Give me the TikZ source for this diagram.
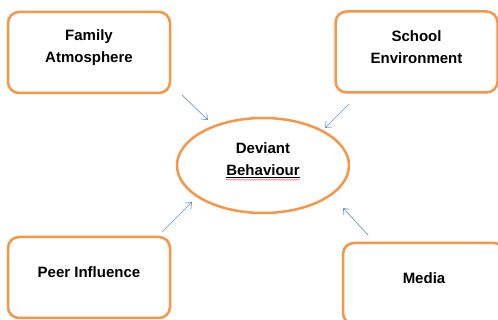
\documentclass[tikz,border=0pt]{standalone}
\usepackage{fontspec}
\setmainfont{Liberation Sans}
\usetikzlibrary{shapes, arrows.meta, decorations.pathmorphing}
\definecolor{boxorange}{HTML}{F79646}
\definecolor{arrowblue}{HTML}{6A9AD0}
\tikzstyle{factor} = [rectangle, rounded corners=11pt, minimum width=162pt, minimum height=81pt, draw=boxorange, line width=2.5pt, inner sep=0pt]
\tikzstyle{outcome} = [ellipse, minimum width=172pt, minimum height=95pt, draw=boxorange, line width=2.5pt, inner sep=0pt]
\tikzstyle{caption} = [font=\fontsize{15}{22}\selectfont\bfseries, align=center, yshift=5pt]
\tikzstyle{edge} = [arrowblue, line width=0.7pt, -{Straight Barb[length=5pt,width=8pt]}]

\begin{document}
\begin{tikzpicture}[x=1pt, y=-1pt]
\useasboundingbox (0,0) rectangle (498,320);
\clip (0,0) rectangle (498,320);

\node (fam) [factor, label={[caption]center:Family\\Atmosphere}] at (89,52.5) {};
\node (school) [factor, label={[caption]center:School\\Environment}] at (416.5,52) {};
\node (peer) [factor, label={[caption]center:Peer Influence}] at (89,277.5) {};
\node (media) [factor, label={[caption]center:Media}] at (424,283.5) {};
\node (dev) [outcome, label={[caption]center:Deviant\\\underline{Behaviour}}] at (263,165.5) {};

\coordinate (fam out) at (182,95);
\coordinate (fam in) at (208,120);
\coordinate (school out) at (349,104);
\coordinate (school in) at (325,128);
\coordinate (peer out) at (162,232);
\coordinate (peer in) at (192,202);
\coordinate (media out) at (368,235);
\coordinate (media in) at (343,208);

\draw [edge] (fam out) -- (fam in);
\draw [edge] (school out) -- (school in);
\draw [edge] (peer out) -- (peer in);
\draw [edge] (media out) -- (media in);

\draw [red!80, line width=0.35pt, decorate, decoration={snake, amplitude=0.5pt, segment length=2.5pt}] (226,179.8) -- (300,179.8);

\end{tikzpicture}
\end{document}
